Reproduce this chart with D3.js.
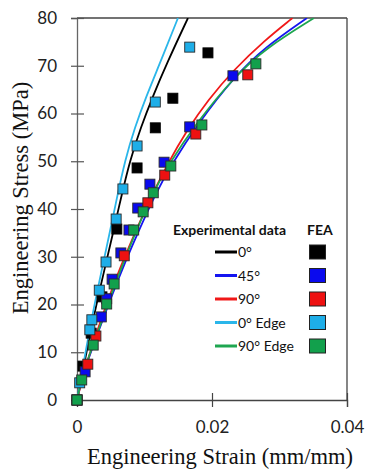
<!DOCTYPE html>
<html><head><meta charset="utf-8">
<script src="https://cdn.jsdelivr.net/npm/d3@7"></script>
<style>html,body{margin:0;padding:0;background:#fff;} svg{display:block;}</style>
</head><body>
<svg id="c" width="365" height="475"></svg>
<script>
// ---- tick labels / categories ----
const xTicks = [0, 0.02, 0.04];
const xTickLabels = ["0", "0.02", "0.04"];
const yTicks = [0, 10, 20, 30, 40, 50, 60, 70, 80];
const seriesNames = ["0°", "45°", "90°", "0° Edge", "90° Edge"];
const lineColors = ["#000000", "#1515f0", "#f01818", "#2ab6ea", "#1ea650"];
const markerColors = ["#000000", "#0a0aee", "#ee1111", "#1eaee8", "#12a04c"];

// ---- experimental curves [strain, stress MPa] ----
const exp0 = [[0,0],[0.00207,14.66],[0.00311,21.57],[0.00548,35.81],[0.00644,41.88],[0.00785,50.26],[0.00948,57.17],[0.01119,63.46],[0.01333,70.58],[0.01644,80]];
const exp45 = [[0,0],[0.00104,6.28],[0.00311,14.03],[0.00489,20.94],[0.00726,29.32],[0.00919,35.6],[0.0117,43.35],[0.01378,48.8],[0.01807,58.22],[0.02341,67.85],[0.0277,73.72],[0.03407,80]];
const exp90 = [[0,0],[0.00111,6.28],[0.00277,13.61],[0.00459,20.94],[0.00681,29.32],[0.01052,41.26],[0.01348,49.63],[0.0163,56.54],[0.01941,62.83],[0.02319,69.11],[0.02785,75.39],[0.03193,80]];
const expEdge0 = [[0,0],[0.00185,14.66],[0.00281,21.57],[0.00496,35.81],[0.00585,41.88],[0.00711,50.26],[0.00859,57.17],[0.01022,63.46],[0.0123,70.58],[0.01496,80]];
const expEdge90 = [[0,0],[0.00096,6.28],[0.00296,13.61],[0.00474,20.94],[0.00704,29.32],[0.00881,35.6],[0.01126,43.35],[0.01333,48.8],[0.01778,58.22],[0.02341,67.85],[0.028,73.72],[0.03511,80]];

// ---- FEA points [strain, stress MPa] ----
const fea0 = [[0,0],[0.00089,7.1],[0.0021,14.0],[0.0037,21.6],[0.0059,35.8],[0.0089,48.6],[0.0116,57.0],[0.0142,63.2],[0.0194,72.7]];
const fea45 = [[0.0012,5.9],[0.0036,17.4],[0.0044,21.2],[0.0052,25.3],[0.0065,30.8],[0.0077,35.6],[0.009,40.2],[0.0108,45.2],[0.0129,49.8],[0.0167,57.2],[0.0231,67.9]];
const fea90 = [[0,0],[0.0016,7.5],[0.0028,13.4],[0.007,30.2],[0.0105,41.3],[0.013,47.1],[0.0176,55.7],[0.0253,68.1]];
const feaEdge0 = [[0,0],[0.0004,3.6],[0.0019,14.7],[0.0022,16.8],[0.0033,23.0],[0.0043,28.9],[0.0058,37.9],[0.0068,44.2],[0.0089,53.2],[0.0116,62.4],[0.0167,73.9]];
const feaEdge90 = [[0,0],[0.0007,4.2],[0.0024,11.5],[0.0044,20.1],[0.0055,24.3],[0.0084,35.6],[0.0098,39.4],[0.0113,43.4],[0.0139,49.0],[0.0185,57.6],[0.0265,70.4]];

const expSeries = [exp0, exp45, exp90, expEdge0, expEdge90];
const feaSeries = [fea0, fea45, fea90, feaEdge0, feaEdge90];

const svg = d3.select("#c");
const L = 77, R = 347, T = 18, B = 400;
const x = d3.scaleLinear().domain([0, 0.04]).range([L, R]);
const y = d3.scaleLinear().domain([0, 80]).range([B, T]);

svg.append("defs").append("clipPath").attr("id", "clip")
  .append("rect").attr("x", L).attr("y", T).attr("width", R - L).attr("height", B - T);

// frame (top & right)
svg.append("line").attr("x1", L).attr("x2", R).attr("y1", T).attr("y2", T).attr("stroke", "#444").attr("stroke-width", 1.3);
svg.append("line").attr("x1", R).attr("x2", R).attr("y1", T).attr("y2", B).attr("stroke", "#444").attr("stroke-width", 1.3);

// y axis
const yAx = svg.append("g").attr("transform", `translate(${L},0)`)
  .call(d3.axisLeft(y).tickValues(yTicks).tickSize(6).tickPadding(14).tickFormat(d3.format("d")));
yAx.select(".domain").attr("stroke", "#666").attr("stroke-width", 1.3);
yAx.selectAll(".tick line").attr("x1", 7).attr("stroke", "#555").attr("stroke-width", 1.2)
  .filter(d => d === 0).remove();
yAx.selectAll(".tick text").attr("font-family", "Lato, 'Open Sans', sans-serif").attr("font-size", 17).attr("fill", "#222");

// x axis
const xAx = svg.append("g").attr("transform", `translate(0,${B})`)
  .call(d3.axisBottom(x).tickValues(xTicks).tickSize(7).tickFormat((d, i) => xTickLabels[i]));
xAx.select(".domain").attr("stroke", "#444").attr("stroke-width", 1.3);
xAx.selectAll(".tick line").attr("y1", -7).attr("stroke", "#444").attr("stroke-width", 1.2)
  .filter(d => d === 0).remove();
xAx.selectAll(".tick text").attr("y", 33).attr("dy", null)
  .attr("font-family", "Lato, 'Open Sans', sans-serif").attr("font-size", 17).attr("fill", "#222");

// axis titles
svg.append("text").attr("x", 220).attr("y", 464).attr("text-anchor", "middle")
  .attr("font-family", "'Liberation Serif', 'Times New Roman', serif").attr("font-size", 22.5).attr("fill", "#111")
  .text("Engineering Strain (mm/mm)");
svg.append("text").attr("transform", "translate(28,198) rotate(-90)").attr("text-anchor", "middle")
  .attr("font-family", "'Liberation Serif', 'Times New Roman', serif").attr("font-size", 22.5).attr("fill", "#111")
  .text("Engineering Stress (MPa)");

// curves
const line = d3.line().x(d => x(d[0])).y(d => y(d[1])).curve(d3.curveBasis);
const cg = svg.append("g").attr("clip-path", "url(#clip)");
expSeries.forEach((s, i) => {
  cg.append("path").datum(s).attr("d", line).attr("fill", "none")
    .attr("stroke", lineColors[i]).attr("stroke-width", 1.8);
});

// FEA markers
const ms = 10;
feaSeries.forEach((s, i) => {
  svg.append("g").selectAll("rect").data(s).join("rect")
    .attr("x", d => x(d[0]) - ms / 2).attr("y", d => y(d[1]) - ms / 2)
    .attr("width", ms).attr("height", ms)
    .attr("fill", markerColors[i])
    .attr("stroke", i === 0 ? "#000" : "#2a2a2a").attr("stroke-width", 0.9);
});

// legend
const lf = "Lato, 'Open Sans', sans-serif";
svg.append("text").attr("x", 173).attr("y", 235).attr("font-family", lf).attr("font-weight", "bold")
  .attr("font-size", 14).attr("fill", "#111").text("Experimental data");
svg.append("text").attr("x", 307).attr("y", 235).attr("font-family", lf).attr("font-weight", "bold")
  .attr("font-size", 14).attr("fill", "#111").text("FEA");
seriesNames.forEach((n, i) => {
  const yy = 252 + i * 23.5;
  svg.append("line").attr("x1", 215).attr("x2", 237).attr("y1", yy).attr("y2", yy)
    .attr("stroke", lineColors[i]).attr("stroke-width", 3);
  svg.append("text").attr("x", 238).attr("y", yy).attr("dy", "0.36em").attr("font-family", lf)
    .attr("font-size", 14).attr("fill", "#111").text(n);
  svg.append("rect").attr("x", 309.5).attr("y", yy - 7).attr("width", 16).attr("height", 14)
    .attr("fill", markerColors[i]).attr("stroke", "#222").attr("stroke-width", 1);
});
</script>
</body></html>
